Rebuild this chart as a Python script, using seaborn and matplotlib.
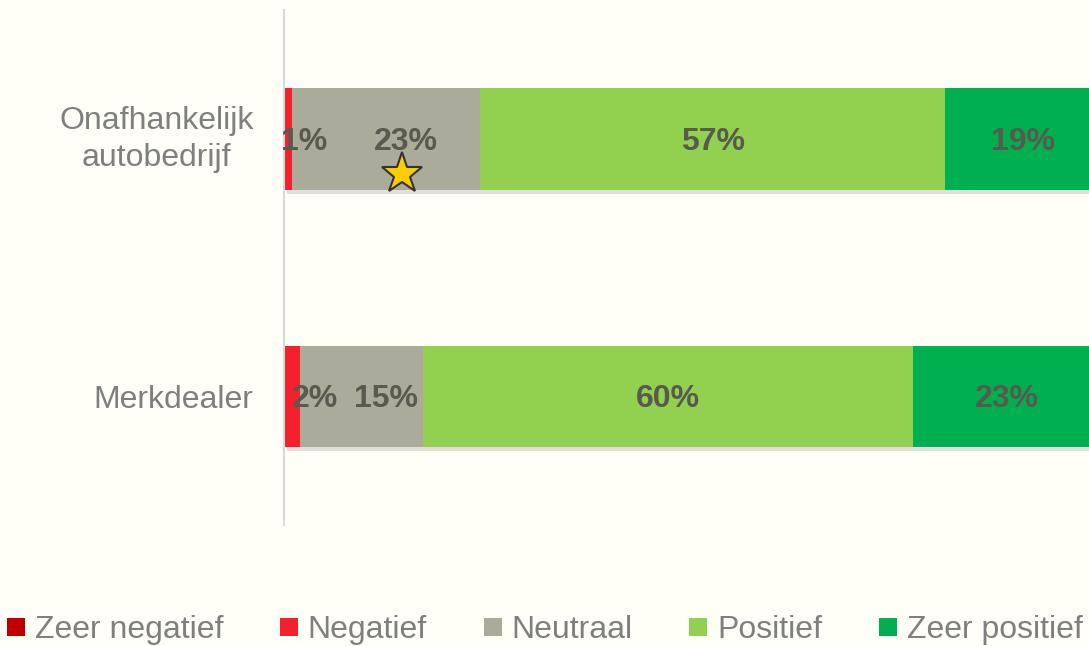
import numpy as np
import pandas as pd
import seaborn as sns
import matplotlib.pyplot as plt
import matplotlib.patheffects as pe
import matplotlib.transforms as mtransforms
from matplotlib.lines import Line2D

sns.set_style("white")
plt.rcParams['font.family'] = ['Liberation Sans', 'DejaVu Sans']

# data (percentages)
categories = ["Onafhankelijk\nautobedrijf", "Merkdealer"]
levels = ["Zeer negatief", "Negatief", "Neutraal", "Positief", "Zeer positief"]
zeer_negatief = [0, 0]
negatief = [1, 2]
neutraal = [23, 15]
positief = [57, 60]
zeer_positief = [19, 23]

colors = ["#C00000", "#F4202C", "#ABAB9B", "#92D050", "#00B050"]
bg = "#FFFFF7"

df = pd.DataFrame({"categorie": categories,
                   "Zeer negatief": zeer_negatief,
                   "Negatief": negatief,
                   "Neutraal": neutraal,
                   "Positief": positief,
                   "Zeer positief": zeer_positief})
cum = df[levels].cumsum(axis=1)

fig = plt.figure(figsize=(10.89, 6.46), dpi=100, facecolor=bg)
ax = fig.add_axes([0.2608, 0.187, 0.7392, 0.7975])
ax.set_facecolor(bg)

# stacked bars: draw cumulative totals from largest to smallest
for i in range(len(levels) - 1, -1, -1):
    sns.barplot(x=cum[levels[i]], y=df["categorie"], orient="h", color=colors[i],
                width=0.394, saturation=1, ax=ax, linewidth=0)
    if i == len(levels) - 1:
        for p in ax.patches:
            p.set_path_effects([pe.SimplePatchShadow(offset=(2, -3), shadow_rgbFace="#999999", alpha=0.3),
                                pe.Normal()])

# value labels
nudge = {(0, 1): 2.0, (0, 2): 2.4, (1, 1): 2.8, (1, 2): 3.0}
for r in range(len(categories)):
    start = 0
    for j, lev in enumerate(levels):
        v = df[lev][r]
        if v > 0:
            xc = start + v / 2 + nudge.get((r, j), 0)
            ax.text(xc, r + 0.012, f"{v}%", ha="center", va="center", fontsize=23,
                    fontweight="bold", color="#595950", zorder=5)
        start += v

# highlight star on neutral segment of first bar
star_x = negatief[0] + neutraal[0] / 2 + 2
ax.plot(star_x, 0.135, marker="*", markersize=31, color="#FFCC00",
        markeredgecolor="#333333", markeredgewidth=1.5, zorder=6)

ax.set_xlim(0, 98.6)
ax.set_ylim(1.5, -0.5)
ax.set_xlabel("")
ax.set_ylabel("")
ax.set_xticks([])
for s in ["top", "right", "bottom"]:
    ax.spines[s].set_visible(False)
ax.spines["left"].set_color("#D9D9D9")
ax.spines["left"].set_linewidth(1.5)
ax.tick_params(axis="y", length=0, pad=22, labelsize=23, labelcolor="#7F7F7F")
shift_up = mtransforms.ScaledTranslation(0, 4.5 / 72, fig.dpi_scale_trans)
for lbl in ax.get_yticklabels():
    lbl.set_multialignment("center")
    lbl.set_linespacing(1.32)
    if "\n" in lbl.get_text():
        lbl.set_transform(lbl.get_transform() + shift_up)

handles = [Line2D([0], [0], marker="s", linestyle="none", markersize=12.5,
                  markerfacecolor=c, markeredgewidth=0) for c in colors]
fig.legend(handles, levels, loc="lower center", bbox_to_anchor=(0.5, -0.043), ncol=5,
           frameon=False, fontsize=23, labelcolor="#7F7F7F", handlelength=0.6,
           handletextpad=0.3, columnspacing=1.75)

fig.savefig("out.png", dpi=100, facecolor=bg)
